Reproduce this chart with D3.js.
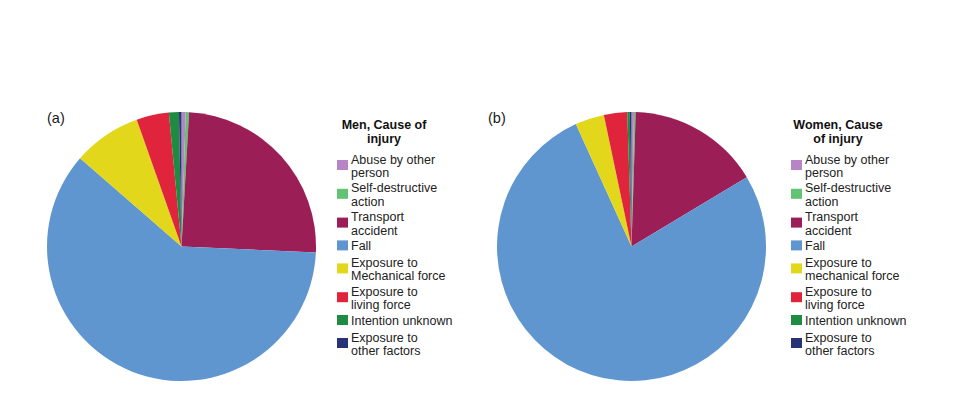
<!DOCTYPE html>
<html lang="en">
<head>
    <meta charset="UTF-8">
    <style>
        html, body {
            margin:0;
            height:100%;
            overflow:hidden;
            background:#fff;
        }
        svg {
            position:absolute;
            top:0;
            left:0;
            font-family:"Liberation Sans", Arial, sans-serif;
        }
    </style>
    <script src="https://d3js.org/d3.v7.min.js"></script>
</head>
<body>
<svg width="962" height="415"></svg>
<script>
    // causes, in legend order (pie runs clockwise from 12 o'clock in this order)
    var causes = ["Abuse by other person", "Self-destructive action", "Transport accident", "Fall",
        "Exposure to mechanical force", "Exposure to living force", "Intention unknown", "Exposure to other factors"];

    // legend labels as wrapped lines
    var menLabels = [["Abuse by other", "person"], ["Self-destructive", "action"], ["Transport", "accident"], ["Fall"],
        ["Exposure to", "Mechanical force"], ["Exposure to", "living force"], ["Intention unknown"], ["Exposure to", "other factors"]];
    var womenLabels = [["Abuse by other", "person"], ["Self-destructive", "action"], ["Transport", "accident"], ["Fall"],
        ["Exposure to", "mechanical force"], ["Exposure to", "living force"], ["Intention unknown"], ["Exposure to", "other factors"]];

    // shares in percent
    var menValues = [0.5, 0.4, 24.8, 60.7, 8.2, 3.9, 1.2, 0.3];
    var womenValues = [0.3, 0.2, 15.9, 76.9, 3.5, 2.8, 0.3, 0.2];

    var colors = ["#b784c6", "#62c374", "#9c1e57", "#5f96d0", "#e2d71a", "#e0243c", "#1f8a42", "#283377"];

    var svg = d3.select("svg");
    var color = d3.scaleOrdinal().domain(causes).range(colors);

    var pie = d3.pie().sort(null).value(function(d) { return d.value; });
    var radius = 134.5;
    var arc = d3.arc().innerRadius(0).outerRadius(radius);

    function drawPanel(tag, tagX, cx, values, labels, title, legendX) {
        var data = causes.map(function(c, i) { return {cause: c, value: values[i], lines: labels[i]}; });

        svg.append("text")
            .attr("x", tagX)
            .attr("y", 123)
            .attr("font-size", 14.5)
            .attr("fill", "#1a1a1a")
            .text(tag);

        var g = svg.append("g").attr("transform", "translate(" + cx + ",246.5)");
        g.selectAll("path")
            .data(pie(data))
            .enter().append("path")
            .attr("d", arc)
            .attr("fill", function(d) { return color(d.data.cause); });

        var lg = svg.append("g").attr("transform", "translate(" + legendX + ",0)");

        lg.append("text")
            .attr("x", 47)
            .attr("y", 129)
            .attr("text-anchor", "middle")
            .attr("font-size", 12.5)
            .attr("font-weight", "bold")
            .attr("fill", "#111")
            .selectAll("tspan")
            .data(title)
            .enter().append("tspan")
            .attr("x", 47)
            .attr("dy", function(d, i) { return i ? 13.5 : 0; })
            .text(function(d) { return d; });

        var y = 159;
        data.forEach(function(d) {
            var item = lg.append("g").attr("transform", "translate(0," + y + ")");
            item.append("rect")
                .attr("x", 0)
                .attr("y", d.lines.length > 1 ? 1 : -5)
                .attr("width", 11)
                .attr("height", 10)
                .attr("fill", color(d.cause));
            item.append("text")
                .attr("font-size", 12.5)
                .attr("fill", "#222")
                .selectAll("tspan")
                .data(d.lines)
                .enter().append("tspan")
                .attr("x", 14)
                .attr("y", function(t, i) { return 4.5 + i * 13.5; })
                .text(function(t) { return t; });
            y += d.lines.length > 1 ? 28.8 : 17;
        });
    }

    drawPanel("(a)", 47, 181.5, menValues, menLabels, ["Men, Cause of", "injury"], 337);
    drawPanel("(b)", 488, 631.5, womenValues, womenLabels, ["Women, Cause", "of injury"], 791);
</script>
</body>
</html>
